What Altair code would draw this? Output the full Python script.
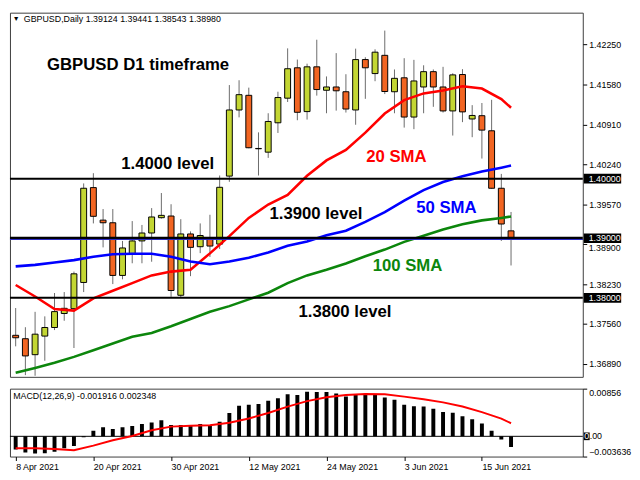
import json
import altair as alt
import pandas as pd

# ---------------- data ----------------
dates = [
    "2021-04-08", "2021-04-09", "2021-04-12", "2021-04-13", "2021-04-14", "2021-04-15", "2021-04-16",
    "2021-04-19", "2021-04-20", "2021-04-21", "2021-04-22", "2021-04-23", "2021-04-26", "2021-04-27",
    "2021-04-28", "2021-04-29", "2021-04-30", "2021-05-03", "2021-05-04", "2021-05-05", "2021-05-06",
    "2021-05-07", "2021-05-10", "2021-05-11", "2021-05-12", "2021-05-13", "2021-05-14", "2021-05-17",
    "2021-05-18", "2021-05-19", "2021-05-20", "2021-05-21", "2021-05-24", "2021-05-25", "2021-05-26",
    "2021-05-27", "2021-05-28", "2021-05-31", "2021-06-01", "2021-06-02", "2021-06-03", "2021-06-04",
    "2021-06-07", "2021-06-08", "2021-06-09", "2021-06-10", "2021-06-11", "2021-06-14", "2021-06-15",
    "2021-06-16", "2021-06-17", "2021-06-18",
]

open_ = [1.37371, 1.37314, 1.37046, 1.37358, 1.37502, 1.37737, 1.37818, 1.38258, 1.39850, 1.39304,
         1.39260, 1.38376, 1.38741, 1.38955, 1.39088, 1.39345, 1.39373, 1.38043, 1.39072, 1.38858,
         1.38998, 1.38902, 1.40043, 1.41153, 1.41399, 1.40507, 1.40445, 1.40938, 1.41351, 1.41861,
         1.41126, 1.41877, 1.41484, 1.41539, 1.41459, 1.41153, 1.41999, 1.41764, 1.42070, 1.41459,
         1.41693, 1.41034, 1.41539, 1.41796, 1.41539, 1.41137, 1.41748, 1.41002, 1.41057, 1.40804,
         1.39839, 1.39124]
high = [1.37829, 1.37507, 1.37765, 1.37689, 1.38081, 1.38097, 1.38440, 1.39920, 1.40092, 1.39490,
        1.39490, 1.38955, 1.39288, 1.39223, 1.39506, 1.39759, 1.39571, 1.39320, 1.39115, 1.39249,
        1.39394, 1.40053, 1.41571, 1.41652, 1.41528, 1.40777, 1.41098, 1.41459, 1.42187, 1.41999,
        1.41930, 1.42332, 1.41716, 1.42107, 1.41753, 1.42182, 1.42038, 1.42171, 1.42485, 1.41833,
        1.42022, 1.41994, 1.41903, 1.41833, 1.41877, 1.41769, 1.41838, 1.41234, 1.41270, 1.41324,
        1.40080, 1.39441]
low = [1.37186, 1.36703, 1.36692, 1.36944, 1.37459, 1.37615, 1.37158, 1.38097, 1.39249, 1.38847,
       1.38231, 1.38311, 1.38580, 1.38580, 1.38606, 1.39329, 1.38017, 1.38001, 1.38364, 1.38750,
       1.38686, 1.38821, 1.39947, 1.41029, 1.40510, 1.40053, 1.40349, 1.40767, 1.41287, 1.40981,
       1.40992, 1.41394, 1.41098, 1.41142, 1.41110, 1.40905, 1.41340, 1.41636, 1.41420, 1.41098,
       1.40857, 1.40831, 1.41098, 1.41206, 1.41110, 1.40724, 1.40949, 1.40696, 1.40338, 1.39830,
       1.38955, 1.38543]
close = [1.37330, 1.37025, 1.37390, 1.37502, 1.37769, 1.37824, 1.38403, 1.39839, 1.39368, 1.39260,
         1.38376, 1.38837, 1.38955, 1.39088, 1.39357, 1.39384, 1.38123, 1.39072, 1.38847, 1.39046,
         1.38869, 1.39855, 1.41153, 1.41410, 1.40519, 1.40502, 1.40960, 1.41362, 1.41845, 1.41114,
         1.41877, 1.41496, 1.41539, 1.41475, 1.41169, 1.41999, 1.41861, 1.42123, 1.41463, 1.41684,
         1.41034, 1.41640, 1.41796, 1.41539, 1.41137, 1.41742, 1.41121, 1.41061, 1.40815, 1.39839,
         1.39239, 1.38980]

macd = [-0.00238, -0.00290, -0.00307, -0.00302, -0.00278, -0.00215, -0.00174, -0.00017, 0.00099, 0.00162,
        0.00133, 0.00162, 0.00186, 0.00220, 0.00249, 0.00290, 0.00203, 0.00203, 0.00203, 0.00220,
        0.00203, 0.00261, 0.00418, 0.00551, 0.00568, 0.00580, 0.00638, 0.00684, 0.00754, 0.00742,
        0.00800, 0.00795, 0.00795, 0.00771, 0.00713, 0.00754, 0.00742, 0.00742, 0.00696, 0.00655,
        0.00568, 0.00539, 0.00534, 0.00493, 0.00435, 0.00423, 0.00360, 0.00307, 0.00232, 0.00099,
        -0.00058, -0.001916]

# indicator lines read at every other bar
line_idx = [0, 2, 4, 6, 8, 10, 12, 14, 16, 18, 20, 22, 24, 26, 28, 30, 32, 34, 36, 38, 40, 42, 44, 46, 48, 50, 51]
sma20 = [1.38215, 1.38022, 1.37813, 1.37785, 1.37990, 1.38118, 1.38247, 1.38376, 1.38440, 1.38472,
         1.38746, 1.39035, 1.39341, 1.39566, 1.39727, 1.40048, 1.40306, 1.40482, 1.40772, 1.41094,
         1.41319, 1.41431, 1.41480, 1.41552, 1.41512, 1.41335, 1.41190]
sma50 = [1.38528, 1.38553, 1.38593, 1.38633, 1.38689, 1.38730, 1.38741, 1.38741, 1.38689, 1.38609,
         1.38564, 1.38609, 1.38673, 1.38762, 1.38874, 1.38947, 1.39051, 1.39127, 1.39276, 1.39437,
         1.39630, 1.39807, 1.39944, 1.40040, 1.40121, 1.40185, 1.40220]
sma100 = [1.36743, 1.36824, 1.36912, 1.37009, 1.37121, 1.37234, 1.37346, 1.37411, 1.37523, 1.37644,
          1.37765, 1.37861, 1.37974, 1.38086, 1.38247, 1.38376, 1.38472, 1.38577, 1.38697, 1.38810,
          1.38939, 1.39043, 1.39148, 1.39236, 1.39300, 1.39341, 1.39365]
signal = [-0.00215, -0.00215, -0.00226, -0.00249, -0.00168, -0.00070, 0.00006, 0.00110, 0.00174, 0.00191,
          0.00197, 0.00244, 0.00319, 0.00418, 0.00534, 0.00632, 0.00702, 0.00742, 0.00760, 0.00754,
          0.00713, 0.00667, 0.00609, 0.00534, 0.00435, 0.00319, 0.002348]

levels = [1.40000, 1.39000, 1.38000]
price_ticks = [1.42250, 1.41580, 1.40910, 1.40240, 1.39570, 1.38900, 1.38230, 1.37560, 1.36890]
hidden_tick = 1.38900          # tick label that sits under the 1.39000 box in the reference
macd_ticks = [0.00856, -0.003636]
date_tick_idx = [0, 8, 16, 24, 32, 40, 48]
date_tick_labels = ["8 Apr 2021", "20 Apr 2021", "30 Apr 2021", "12 May 2021",
                    "24 May 2021", "3 Jun 2021", "15 Jun 2021"]

# ---------------- layout / style ----------------
W, H1, H2 = 582, 370, 69
FONT = "Liberation Sans"
UP, DOWN = "#c3d633", "#f26522"
X_DOMAIN = [-0.08, 57.88]
Y_DOMAIN = [1.36674, 1.42786]
M_DOMAIN = [-0.003636, 0.00856]


def px(xr):  # reference-pixel x -> panel pixel
    return (xr - 1.7) * W / 592.3


def py(yr):
    return (yr - 1.7) * H1 / 380.0


df = pd.DataFrame({"i": list(range(len(dates))), "date": dates, "open": open_, "high": high,
                   "low": low, "close": close, "macd": macd})
ind = pd.DataFrame({"i": line_idx, "sma20": sma20, "sma50": sma50, "sma100": sma100, "signal": signal})

xsc = alt.Scale(domain=X_DOMAIN, nice=False, zero=False)
ysc = alt.Scale(domain=Y_DOMAIN, nice=False, zero=False)
msc = alt.Scale(domain=M_DOMAIN, nice=False, zero=False)

X = alt.X("i:Q", scale=xsc, axis=None)

price_axis = alt.Axis(orient="right", values=price_ticks,
                      labelExpr=f"abs(datum.value - {hidden_tick}) < 1e-7 ? '' : format(datum.value, '.5f')",
                      grid=False, domain=False,
                      ticks=True, tickSize=4, tickColor="black", labelPadding=2, labelFont=FONT,
                      labelFontSize=9, labelColor="black", title=None)


def PY(field):
    return alt.Y(field, scale=ysc, axis=price_axis)


wicks = alt.Chart(df).mark_rule(color="#6a6a6a", strokeWidth=1, clip=True).encode(
    x=X, y=PY("low:Q"), y2="high:Q")
bodies = alt.Chart(df).mark_bar(size=6, stroke="black", strokeWidth=1, clip=True).encode(
    x=X, y=PY("open:Q"), y2="close:Q",
    color=alt.condition("datum.close >= datum.open", alt.value(UP), alt.value(DOWN)))


def sma_line(field, color):
    return alt.Chart(ind).mark_line(color=color, strokeWidth=2.6, clip=True).encode(
        x=X, y=PY(f"{field}:Q"))


l20 = sma_line("sma20", "#ff0000")
l50 = sma_line("sma50", "#0000ff")
l100 = sma_line("sma100", "#0c860c")

level_layers = []
for p, w in zip(levels, [2, 3, 2]):
    level_layers.append(alt.Chart(pd.DataFrame({"p": [p]})).mark_rule(color="black", strokeWidth=w).encode(
        y=PY("p:Q")))

bid = alt.Chart(pd.DataFrame({"p": [close[-1]]})).mark_rule(color="#2b2bd0", strokeWidth=1).encode(
    y=PY("p:Q"))

lvl_df = pd.DataFrame({"p": levels})
boxes = alt.Chart(lvl_df).mark_point(shape="M-1,-0.26H1V0.26H-1Z", size=1444, filled=True,
                                     color="black", opacity=1).encode(
    x=alt.value(W + 20), y=PY("p:Q"))
box_txt = alt.Chart(lvl_df).mark_text(color="white", align="left", baseline="middle",
                                      font=FONT, fontSize=9).encode(
    x=alt.value(W + 6), y=PY("p:Q"), text=alt.Text("p:Q", format=".5f"))
under_txt = alt.Chart(pd.DataFrame({"p": [hidden_tick]})).mark_text(
    color="black", align="left", baseline="top", dy=-0.5, font=FONT, fontSize=9).encode(
    x=alt.value(W + 6), y=PY("p:Q"), text=alt.Text("p:Q", format=".5f"))


def note(text, xr, yr, color, size=17, bold=True, panel_y=None):
    yv = py(yr) if panel_y is None else panel_y
    return alt.Chart(pd.DataFrame({"t": [text]})).mark_text(
        align="left", baseline="middle", font=FONT, fontSize=size,
        fontWeight="bold" if bold else "normal", color=color).encode(
        x=alt.value(px(xr)), y=alt.value(yv), text="t:N")


header = f"GBPUSD,Daily  {open_[-1]:.5f} {high[-1]:.5f} {low[-1]:.5f} {close[-1]:.5f}"
notes = [
    note("\u25bc", 4.5, 8, "black", size=7, bold=False),
    note(header, 16, 8, "black", size=9, bold=False),
    note("GBPUSD D1 timeframe", 40, 56, "black"),
    note("1.4000 level", 116.7, 159.3, "black"),
    note("1.3900 level", 270, 211.7, "black"),
    note("1.3800 level", 300, 314, "black"),
    note("20 SMA", 370, 152.7, "#ff0000"),
    note("50 SMA", 421.7, 206, "#0000ff"),
    note("100 SMA", 376.7, 266, "#0c860c"),
]

main = alt.layer(wicks, bodies, l20, l50, l100, *level_layers, bid, *notes, under_txt, boxes, box_txt).properties(
    width=W, height=H1)

# ---------------- MACD panel ----------------
label_expr = f"{json.dumps(date_tick_labels)}[round(datum.value / 8)]"
date_axis = alt.Axis(values=date_tick_idx, labelExpr=label_expr, labelAlign="left", labelFont=FONT,
                     labelFontSize=9, labelColor="black", tickSize=4, tickColor="black", domain=False,
                     grid=False, title=None, labelPadding=2, labelFlush=False, labelOverlap=False)
macd_axis = alt.Axis(orient="right", values=macd_ticks,
                     labelExpr="datum.value > 0 ? format(datum.value, '.5f') : format(datum.value, '.6f')",
                     labelFlush=True, grid=False, domain=False, tickSize=4, tickColor="black",
                     labelPadding=2, labelFont=FONT, labelFontSize=9, labelColor="black", title=None)


def MX():
    return alt.X("i:Q", scale=xsc, axis=date_axis)


def MY(field):
    return alt.Y(field, scale=msc, axis=macd_axis)


hist = alt.Chart(df).mark_bar(size=4, color="black", clip=True).encode(x=MX(), y=MY("macd:Q"))
zero = alt.Chart(pd.DataFrame({"z": [0.0]})).mark_rule(color="black", strokeWidth=1).encode(y=MY("z:Q"))
sig = alt.Chart(ind).mark_line(color="#ff0000", strokeWidth=2, clip=True).encode(x=MX(), y=MY("signal:Q"))
zbox = alt.Chart(pd.DataFrame({"z": [0.0]})).mark_point(shape="M-1,-1.3H1V1.3H-1Z", size=36, filled=True,
                                                        color="black", opacity=1).encode(
    x=alt.value(W + 4), y=MY("z:Q"))
ztxt0 = alt.Chart(pd.DataFrame({"t": ["0"], "z": [0.0]})).mark_text(
    align="left", baseline="middle", font=FONT, fontSize=9, color="white").encode(
    x=alt.value(W + 1.5), y=MY("z:Q"), text="t:N")
ztxt = alt.Chart(pd.DataFrame({"t": [".00"], "z": [0.0]})).mark_text(
    align="left", baseline="middle", font=FONT, fontSize=9, color="black").encode(
    x=alt.value(W + 7), y=MY("z:Q"), text="t:N")
macd_label = note(f"MACD(12,26,9) {macd[-1]:.6f} {signal[-1]:.6f}", 5, 0, "black", size=9, bold=False,
                  panel_y=7.8)

macd_panel = alt.layer(hist, zero, sig, macd_label, zbox, ztxt0, ztxt).properties(width=W, height=H2)

chart = alt.vconcat(main, macd_panel, spacing=10).properties(padding=0, background="white").configure_view(
    stroke="#3c3c3c", strokeWidth=1)

chart.save("out.html", embed_options={"renderer": "svg", "actions": False})
